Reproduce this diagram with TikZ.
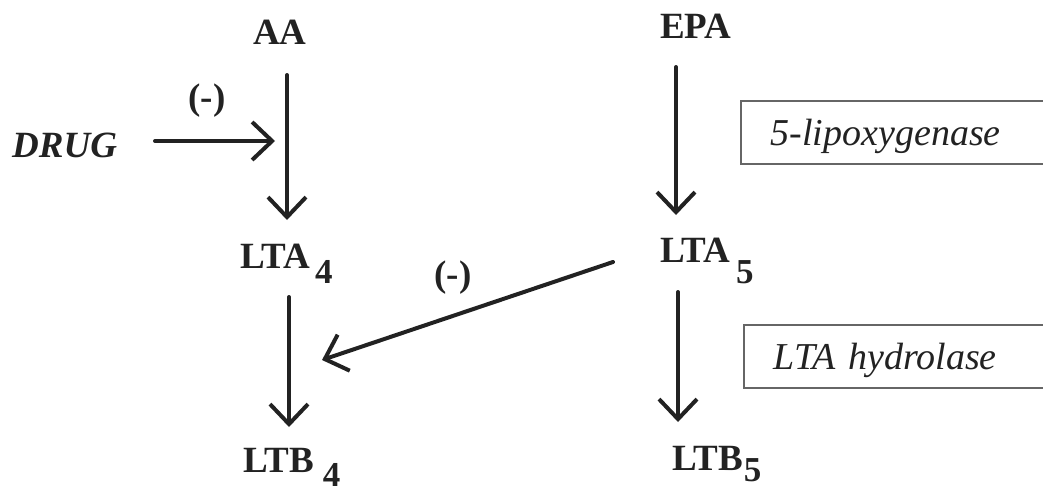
\documentclass[tikz,border=0pt]{standalone}
\usepackage{fontspec}
\setmainfont{Liberation Serif}
\usepackage{tikz}
\usetikzlibrary{arrows.meta}

\newcommand{\lowdigit}[3]{\hspace{#1pt}\raisebox{-#2pt}{\fontsize{35}{35}\selectfont #3}}
\definecolor{ink}{HTML}{222222}
\definecolor{boxline}{HTML}{666666}

\tikzset{
  compound/.style={anchor=base west, inner sep=0pt, text=ink, font=\fontsize{37}{40}\selectfont\bfseries},
  flow/.style={draw=ink, line width=4pt, line cap=round,
    -{Straight Barb[length=20pt,width=38pt,line width=4pt]}},
  enzbox/.style={draw=boxline, line width=1.5pt, anchor=north west, text=ink,
    font=\fontsize{38}{40}\selectfont\itshape, minimum height=63pt,
    text width=270pt, inner xsep=30pt, text height=30pt, text depth=3pt, align=left}
}

\begin{document}
\begin{tikzpicture}[x=1pt,y=-1pt]
            \clip (0,0) rectangle (1043,495); % page size

            \node[compound] (aa) at (253,45) {AA};
            \node[compound] (epa) at (660,38) {EPA};
            \node[compound, font=\fontsize{37}{40}\selectfont\bfseries\itshape] (drug) at (12,157) {DRUG};
            \node[compound] (lta4) at (240,268) {LTA\lowdigit{5}{15}{4}};
            \node[compound] (ltb4) at (243,472) {LTB\lowdigit{9}{14}{4}};
            \node[compound] (lta5) at (660,262) {LTA\lowdigit{6}{21}{5}};
            \node[compound] (ltb5) at (672,470) {LTB\lowdigit{1}{11}{5}};

            \node[compound, anchor=center] (inhib1) at (207,101) {(-)};
            \node[compound, anchor=center] (inhib2) at (453,278) {(-)};

            \node[enzbox] (lipox) at (740,100) {5-lipoxygenase};
            \node[enzbox] (hydro) at (743,324) {LTA hydrolase};

            \coordinate (hit1) at (275,141);
            \coordinate (hit2) at (322,360);

            % main pathways
            \draw[flow] ([shift={(34,30)}]aa.base west) -- ([shift={(47,-48)}]lta4.base west);
            \draw[flow] ([shift={(49,29)}]lta4.base west) -- ([shift={(46,-45)}]ltb4.base west);
            \draw[flow] ([shift={(16,29)}]epa.base west) -- ([shift={(16,-47)}]lta5.base west);
            \draw[flow] ([shift={(18,30)}]lta5.base west) -- ([shift={(6,-48)}]ltb5.base west);

            % inhibition
            \draw[flow] ([shift={(143,-16)}]drug.base west) -- (hit1);
            \draw[flow] ([shift={(-47,0)}]lta5.base west) -- (hit2);

        \end{tikzpicture}
\end{document}
